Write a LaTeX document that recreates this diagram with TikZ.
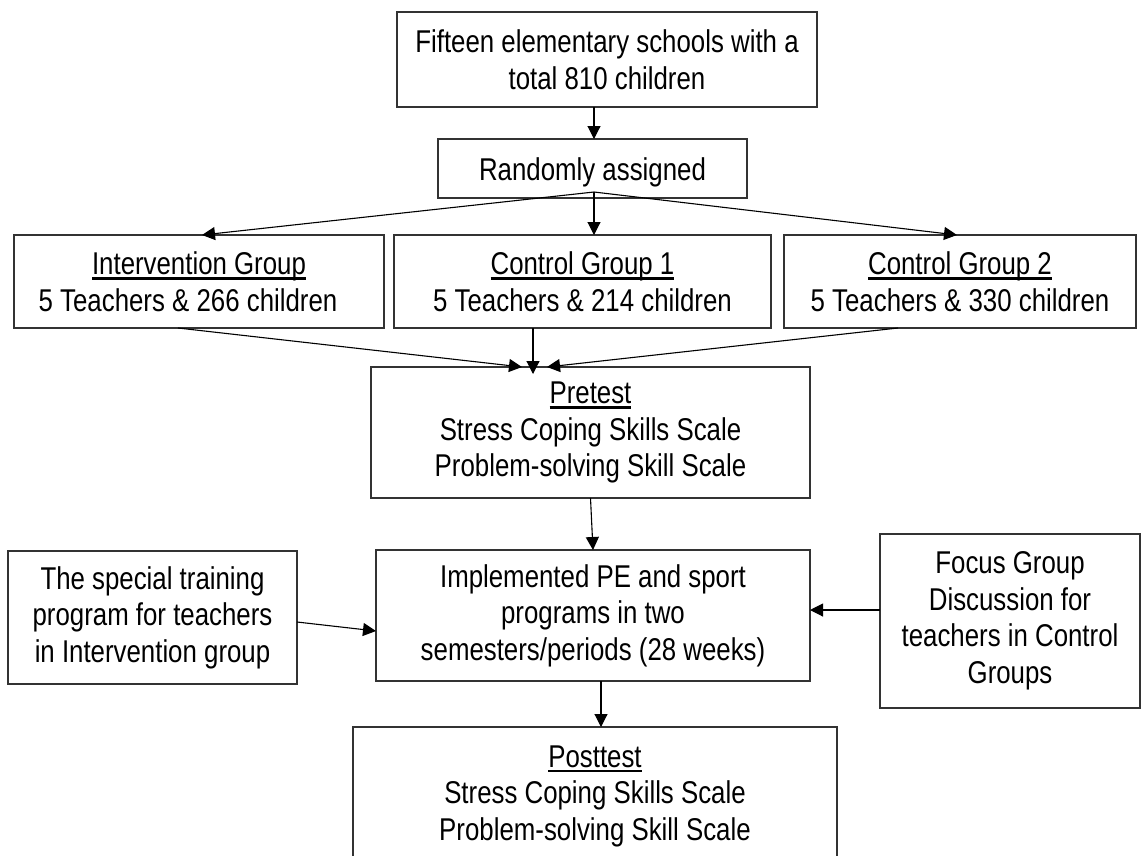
\documentclass[tikz,border=0pt]{standalone}
\usepackage{fontspec}
\setmainfont{Liberation Sans}[FakeStretch=0.82]
\usetikzlibrary{arrows.meta,calc}
\newcommand\ulword[1]{\setbox0\hbox{#1}\rlap{\rule[-5pt]{\wd0}{2.4pt}}\box0}
\begin{document}
\begin{tikzpicture}[x=1pt,y=-1pt,
  box/.style={draw=black!80, line width=1.4pt, inner sep=0pt, outer sep=0pt,
    align=center, font=\fontsize{31.5}{36.5}\selectfont,
    execute at begin node={\rule{0pt}{30pt}}},
  arr/.style={draw=black, line width=1.1pt, -{Triangle[length=13pt,width=13pt]}}]
\useasboundingbox (0,0) rectangle (1143,855);
\fill[white] (0,0) rectangle (1143,855);
\clip (0,0) rectangle (1143,855);

\node[box, minimum width=420pt, minimum height=95pt] (top) at (607,59.5)
  {Fifteen elementary schools with a\\ total 810 children};
\node[box, minimum width=309pt, minimum height=59pt] (rand) at (592.5,168.5)
  {Randomly assigned};
\node[box, minimum width=370pt, minimum height=93pt] (ig) at (199,281.5)
  {\ulword{Intervention Group}\\ 5 Teachers \& 266 children\hspace*{22pt}};
\node[box, minimum width=377pt, minimum height=93pt] (cg1) at (582.5,281.5)
  {\ulword{Control Group 1}\\ 5 Teachers \& 214 children};
\node[box, minimum width=352pt, minimum height=93pt] (cg2) at (960,281.5)
  {\ulword{Control Group 2}\\ 5 Teachers \& 330 children};
\node[box, minimum width=439pt, minimum height=131pt] (pre) at (590.5,432.5)
  {\ulword{Pretest}\\ Stress Coping Skills Scale\\ Problem-solving Skill Scale};
\node[box, minimum width=434pt, minimum height=131pt] (impl) at (593,615.5)
  {Implemented PE and sport\\ programs in two\\ semesters/periods (28 weeks)};
\node[box, minimum width=289pt, minimum height=133pt] (train) at (152.5,617.5)
  {The special training\\ program for teachers\\ in Intervention group};
\node[box, minimum width=260pt, minimum height=174pt] (focus) at (1010,621)
  {Focus Group\\ Discussion for\\ teachers in Control\\ Groups};
\node[box, minimum width=484pt, minimum height=138pt] (post) at (595,796)
  {\ulword{Posttest}\\ Stress Coping Skills Scale\\ Problem-solving Skill Scale};

\coordinate (fork) at (594,192);
\draw[arr] (top.south -| fork) -- (rand.north -| fork);
\draw[arr] (fork) -- ([xshift=3pt]ig.north);
\draw[arr] (fork) -- (cg1.north -| fork);
\draw[arr] (fork) -- ([xshift=-3pt]cg2.north);

\draw[arr] ([xshift=-21pt]ig.south) -- ([xshift=-68.5pt]pre.north);
\draw[arr] ([xshift=-49.5pt]cg1.south) -- ([xshift=-57.5pt,yshift=-7pt]pre.north);
\draw[arr] ([xshift=-62pt]cg2.south) -- ([xshift=-43.5pt]pre.north);

\draw[arr] (pre.south) -- (impl.north);
\draw[arr] ([yshift=-4.5pt]train.east) -- ([yshift=-15.5pt]impl.west);
\draw[arr] ([yshift=11pt]focus.west) -- ([yshift=11pt]focus.west -| impl.east);
\draw[arr] ([xshift=8pt]impl.south) -- ([xshift=8pt]impl.south |- post.north);
\end{tikzpicture}
\end{document}
